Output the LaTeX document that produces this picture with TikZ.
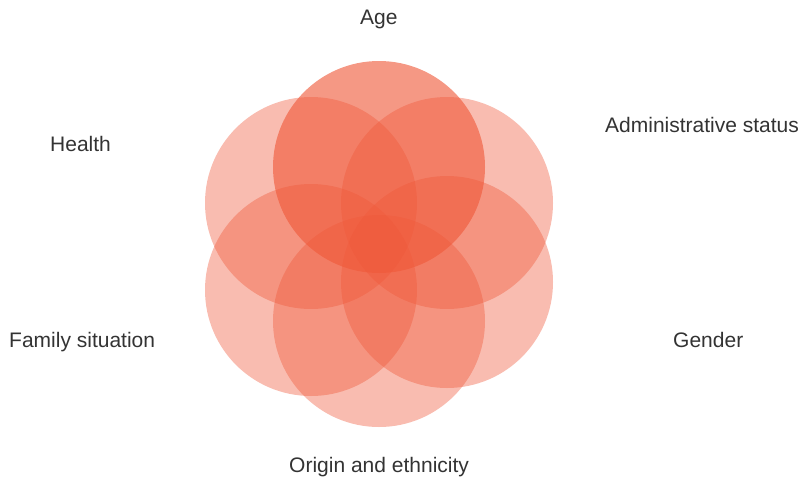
\documentclass[tikz,border=0pt]{standalone}
\usepackage{fontspec}
\setmainfont{Liberation Sans}
\definecolor{petal}{RGB}{239,88,57}
\definecolor{labelgray}{RGB}{51,51,51}
\begin{document}
\begin{tikzpicture}[x=1pt,y=-1pt,
  petalset/.style={circle, draw=none, fill=petal, fill opacity=0.4,
    minimum size=212pt, inner sep=0pt},
  agepetal/.style={petalset, fill opacity=0.62},
  lbl/.style={text=labelgray, inner sep=0pt, anchor=base west,
    font=\fontsize{21}{25}\selectfont}]
  \useasboundingbox (0,0) rectangle (805,477);
  % overlapping discs
  \node[petalset] (health) at (311,203) {};
  \node[petalset] (admin)  at (447,203) {};
  \node[petalset] (gender) at (447,282) {};
  \node[petalset] (family) at (311,290) {};
  \node[petalset] (origin) at (379,321) {};
  \node[agepetal] (age)    at (379,167) {};
  % labels
  \node[lbl] (tage)    at (360,24)  {Age};
  \node[lbl] (tadmin)  at (605,132) {Administrative status};
  \node[lbl] (thealth) at (50,151)  {Health};
  \node[lbl] (tfamily) at (9,347)   {Family situation};
  \node[lbl] (tgender) at (673,347) {Gender};
  \node[lbl] (torigin) at (289,472) {Origin and ethnicity};
\end{tikzpicture}
\end{document}
